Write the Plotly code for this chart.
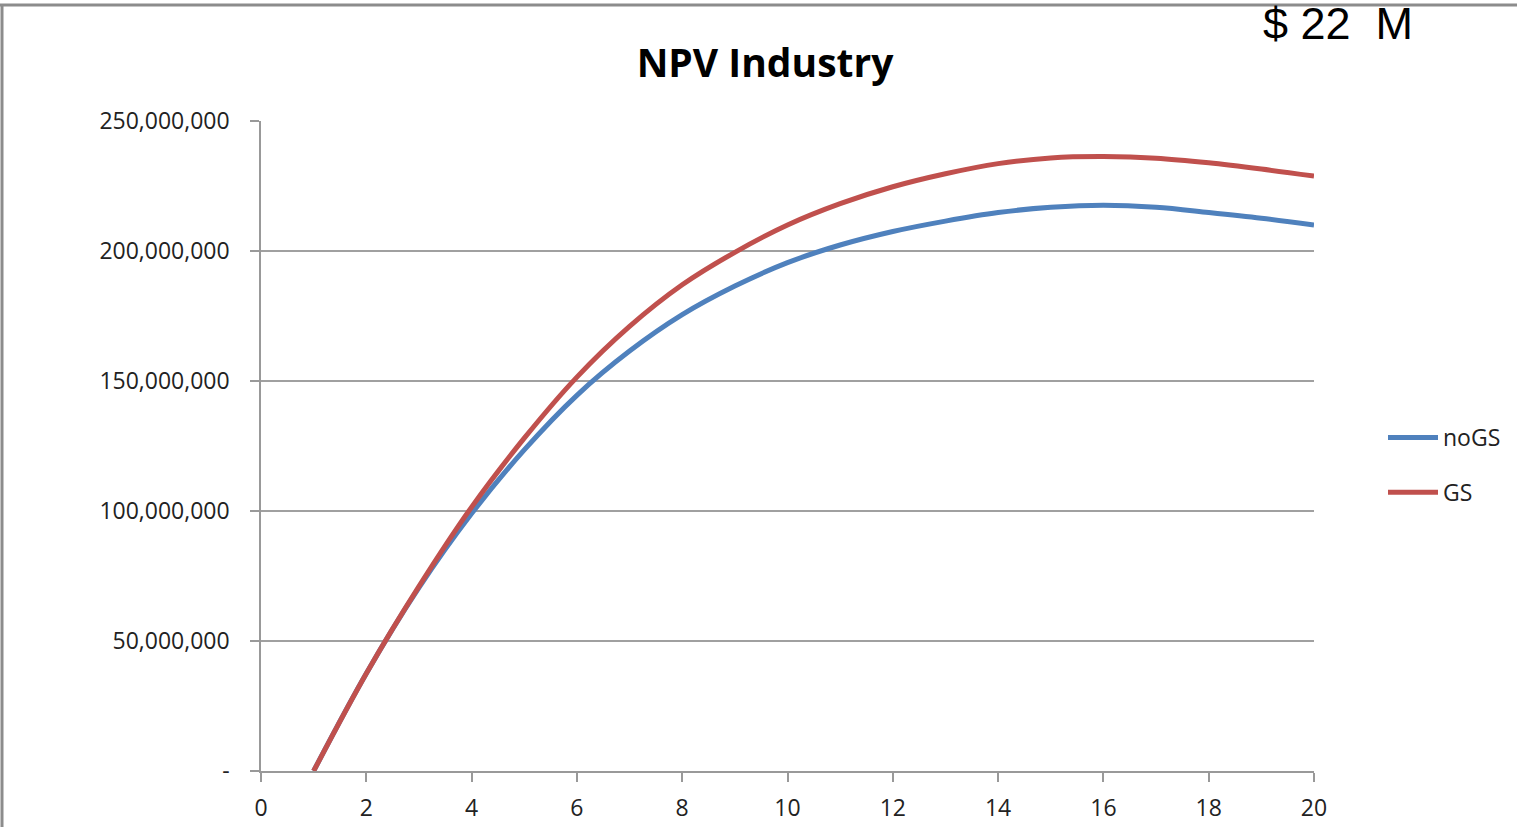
import plotly.graph_objects as go

# Data
years = [1, 2, 3, 4, 5, 6, 7, 8, 9, 10, 11, 12, 13, 14, 15, 16, 17, 18, 19, 20]
nogs = [0, 37.5e6, 70.5e6, 99e6, 123.5e6, 144.5e6, 161.5e6, 175.5e6, 186.5e6, 195.5e6,
        202.3e6, 207.5e6, 211.5e6, 214.8e6, 216.8e6, 217.6e6, 216.8e6, 214.8e6, 212.6e6, 210e6]
gs = [0, 37.5e6, 71e6, 101.5e6, 128e6, 151.5e6, 171e6, 187e6, 199.5e6, 210e6,
      218.2e6, 224.7e6, 229.7e6, 233.6e6, 235.8e6, 236.3e6, 235.7e6, 233.9e6, 231.5e6, 228.8e6]
ytick_vals = [0, 50e6, 100e6, 150e6, 200e6, 250e6]
ytick_text = ["-", "50,000,000", "100,000,000", "150,000,000", "200,000,000", "250,000,000"]
xtick_vals = [0, 2, 4, 6, 8, 10, 12, 14, 16, 18, 20]

W, H = 1517, 827
L, R, T, B = 261, 203, 121, 56
pw, ph = W - L - R, H - T - B

def px_x(p):
    return (p - L) / pw

def px_y(p):
    return (H - B - p) / ph

fig = go.Figure()
fig.add_trace(go.Scatter(x=years, y=nogs, name="noGS", mode="lines",
                         line=dict(color="#4F81BD", width=5, shape="spline"),
                         legendgroup="a"))
fig.add_trace(go.Scatter(x=years, y=gs, name="GS", mode="lines",
                         line=dict(color="#C0504D", width=5, shape="spline"),
                         legendgroup="b"))

font_family = "Open Sans"
fig.update_layout(
    width=W, height=H, autosize=False,
    margin=dict(l=L, r=R, t=T, b=B, autoexpand=False),
    paper_bgcolor="white", plot_bgcolor="white",
    title=dict(text="<b>NPV Industry</b>", x=765 / W, xanchor="center",
               y=1 - 63 / H, yanchor="middle",
               font=dict(family=font_family, size=39, color="#000000")),
    xaxis=dict(range=[0, 20], tickvals=xtick_vals, showgrid=False,
               showline=True, linecolor="#999999", linewidth=1.5,
               ticks="outside", ticklen=9, tickcolor="#999999", tickwidth=1.5,
               ticklabelstandoff=7, automargin=False,
               tickfont=dict(family=font_family, size=23, color="#222222"),
               zeroline=False, fixedrange=True),
    yaxis=dict(range=[0, 250e6], tickvals=ytick_vals, ticktext=ytick_text,
               showgrid=True, gridcolor="#A0A0A0", gridwidth=1.5,
               showline=True, linecolor="#999999", linewidth=1.5,
               ticks="outside", ticklen=9, tickcolor="#999999", tickwidth=1.5,
               ticklabelstandoff=16, automargin=False,
               tickfont=dict(family=font_family, size=23, color="#222222"),
               zeroline=False, fixedrange=True),
    legend=dict(x=px_x(1383), y=px_y(416), xanchor="left", yanchor="top",
                font=dict(family=font_family, size=23, color="#222222"),
                traceorder="grouped", tracegroupgap=22, itemwidth=50,
                bgcolor="rgba(0,0,0,0)"),
    showlegend=True,
)

# Outer chart border (gray) visible on top and left
fig.add_shape(type="line", xref="paper", yref="paper",
              x0=px_x(0), x1=px_x(W), y0=px_y(5), y1=px_y(5),
              line=dict(color="#8C8C8C", width=3))
fig.add_shape(type="line", xref="paper", yref="paper",
              x0=px_x(2), x1=px_x(2), y0=px_y(5), y1=px_y(H + 5),
              line=dict(color="#8C8C8C", width=3))

fig.add_annotation(text="$ 22  M", xref="paper", yref="paper",
                   x=px_x(1338), y=px_y(24), xanchor="center", yanchor="middle",
                   showarrow=False,
                   font=dict(family="Liberation Sans", size=45, color="#000000"))

fig.write_html("out.html",
               config={"displayModeBar": False, "responsive": False},
               post_script="document.body.style.margin='0';document.body.style.overflow='hidden';")
